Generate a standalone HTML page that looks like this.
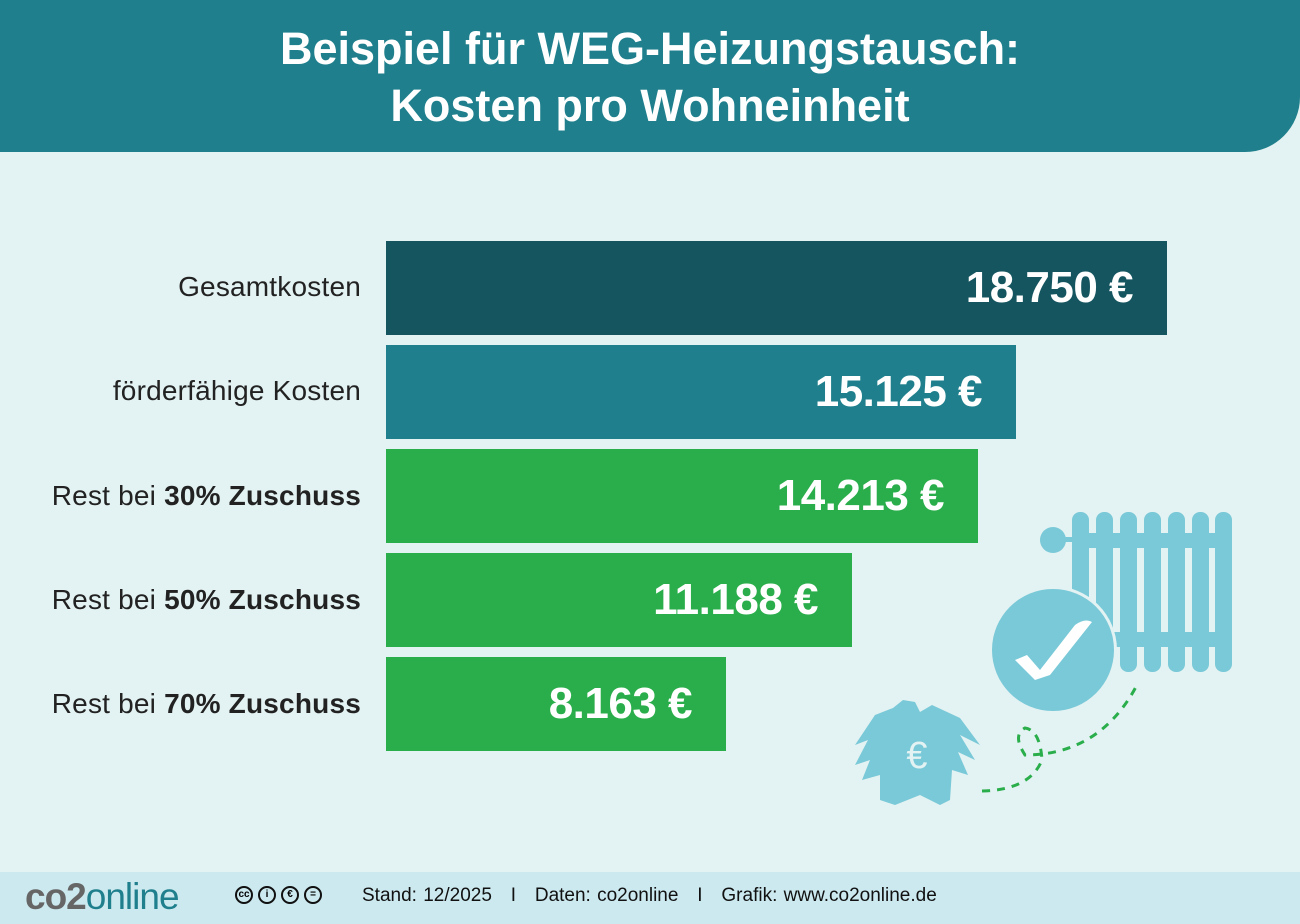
<!DOCTYPE html>
<html><head><meta charset="utf-8"><style>
body{margin:0;width:1300px;height:924px;background:#e3f2f2;font-family:"Liberation Sans",sans-serif;position:relative;overflow:hidden}
.hd{position:absolute;left:0;top:0;width:1300px;height:152px;background:#1f7f8c;border-bottom-right-radius:55px;color:#fff;text-align:center;font-weight:bold;font-size:45px;line-height:57px;padding-top:20px;box-sizing:border-box}
.lbl{position:absolute;right:939px;font-size:28px;color:#222;line-height:30px;letter-spacing:0.2px}
.bar{position:absolute;left:386px;height:94px;color:#fff;font-weight:bold;font-size:44px;text-align:right;box-sizing:border-box;padding-right:34px;line-height:94px;letter-spacing:-0.5px}
.ft{position:absolute;left:0;top:872px;width:1300px;height:52px;background:#cbe9ef}
.cc{position:absolute;top:886px;width:18px;height:18px;border:2px solid #111;border-radius:50%;box-sizing:border-box;font-size:10px;font-weight:bold;text-align:center;line-height:14px}
</style></head><body>
<div class="hd">Beispiel für WEG-Heizungstausch:<br>Kosten pro Wohneinheit</div>
<div class="lbl" style="top:272px">Gesamtkosten</div>
<div class="lbl" style="top:376px">förderfähige Kosten</div>
<div class="lbl" style="top:481px">Rest bei <b>30% Zuschuss</b></div>
<div class="lbl" style="top:585px">Rest bei <b>50% Zuschuss</b></div>
<div class="lbl" style="top:689px">Rest bei <b>70% Zuschuss</b></div>
<div class="bar" style="top:241px;width:781px;background:#15555f">18.750 €</div>
<div class="bar" style="top:345px;width:630px;background:#1f7f8c">15.125 €</div>
<div class="bar" style="top:449px;width:592px;background:#2aae4b">14.213 €</div>
<div class="bar" style="top:553px;width:466px;background:#2aae4b">11.188 €</div>
<div class="bar" style="top:657px;width:340px;background:#2aae4b">8.163 €</div>
<svg style="position:absolute;left:0;top:0" width="1300" height="924">
<g fill="#79c9d8">
<circle cx="1053" cy="540" r="13"/><rect x="1060" y="537" width="20" height="5"/>
<rect x="1072" y="512" width="17" height="160" rx="8"/><rect x="1096" y="512" width="17" height="160" rx="8"/>
<rect x="1120" y="512" width="17" height="160" rx="8"/><rect x="1144" y="512" width="17" height="160" rx="8"/>
<rect x="1168" y="512" width="17" height="160" rx="8"/><rect x="1192" y="512" width="17" height="160" rx="8"/>
<rect x="1215" y="512" width="17" height="160" rx="8"/>
<rect x="1072" y="533" width="160" height="15"/><rect x="1072" y="632" width="160" height="15"/>
<circle cx="1053" cy="650" r="64" fill="#e3f2f2"/>
<circle cx="1053" cy="650" r="61"/>
<path d="M903 700 L915 702 L920 712 L932 705 L960 718 L980 745 L960 735 L975 760 L958 752 L968 775 L952 770 L950 800 L940 805 L920 795 L895 805 L880 800 L880 775 L862 780 L870 760 L855 765 L868 740 L855 745 L875 715 L893 708 Z"/>
</g>
<path d="M1015 660 L1035 680 L1050 675 L1092 622 Q1085 618 1075 625 L1040 670 L1027 655 Z" fill="#fff"/>
<text x="917" y="768" font-size="38" fill="#e3f2f2" text-anchor="middle" font-family="Liberation Sans">€</text>
<path d="M982 791 Q1030 790 1042 760 Q1040 730 1025 728 Q1012 735 1025 755 Q1100 755 1137 685" fill="none" stroke="#2aae4b" stroke-width="3" stroke-dasharray="8 7"/>
</svg>
<div class="ft"></div>
<div style="position:absolute;left:25px;top:876px;font-size:37px;font-weight:bold;color:#666;letter-spacing:-1px">co2<span style="color:#1f7f8c;font-weight:normal">online</span></div>
<div class="cc" style="left:235px">cc</div>
<div class="cc" style="left:258px">i</div>
<div class="cc" style="left:281px">€</div>
<div class="cc" style="left:304px">=</div>
<div style="position:absolute;left:362px;top:885px;font-size:19px;color:#111;word-spacing:1px">Stand: 12/2025 &nbsp; I &nbsp; Daten: co2online &nbsp; I &nbsp; Grafik: www.co2online.de</div>
</body></html>
